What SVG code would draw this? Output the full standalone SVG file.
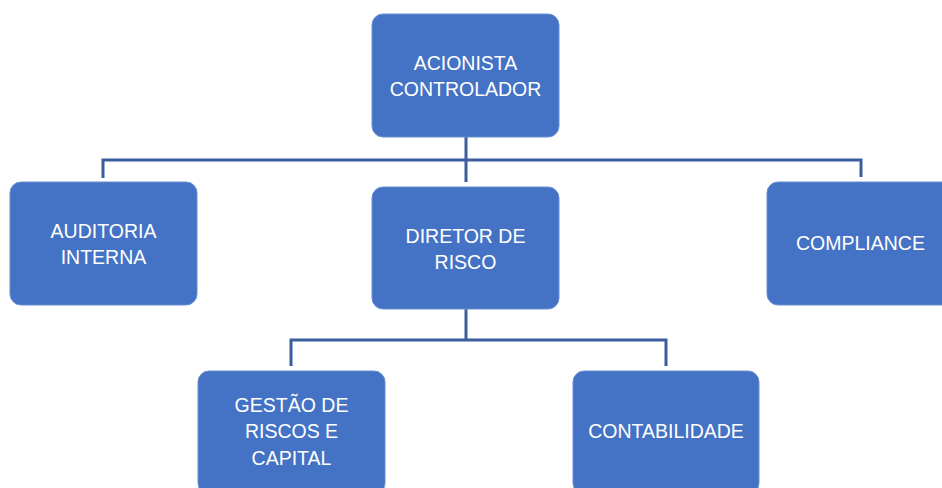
<svg xmlns="http://www.w3.org/2000/svg" width="942" height="488" viewBox="0 0 942 488">
<style>
.box{fill:#4472C4;stroke:#6A8FD0;stroke-width:1}
.t{font-family:"Liberation Sans",Arial,sans-serif;font-size:19.5px;fill:#FFFFFF;text-anchor:middle}
.c{fill:none;stroke:#3A5E9E;stroke-width:3}
</style>
<rect width="942" height="488" fill="#FFFFFF"/>
<g id="connectors">
<path class="c" d="M466 137V182M103 178V160H861V177"/>
<path class="c" d="M466 309V340M291 366V340H666V366"/>
</g>
<g id="acionista">
<rect class="box" x="372" y="14" width="187" height="123" rx="11"/>
<text class="t" x="465.5" y="70">ACIONISTA</text>
<text class="t" x="465.5" y="96">CONTROLADOR</text>
</g>
<g id="auditoria">
<rect class="box" x="10" y="182" width="187" height="123" rx="11"/>
<text class="t" x="103.5" y="238">AUDITORIA</text>
<text class="t" x="103.5" y="264">INTERNA</text>
</g>
<g id="diretor">
<rect class="box" x="372" y="187" width="187" height="122" rx="11"/>
<text class="t" x="465.5" y="243">DIRETOR DE</text>
<text class="t" x="465.5" y="269">RISCO</text>
</g>
<g id="compliance">
<rect class="box" x="767" y="182" width="187" height="123" rx="11"/>
<text class="t" x="860.5" y="250">COMPLIANCE</text>
</g>
<g id="gestao">
<rect class="box" x="198" y="371" width="187" height="123" rx="11"/>
<text class="t" x="291.5" y="412">GESTÃO DE</text>
<text class="t" x="291.5" y="438">RISCOS E</text>
<text class="t" x="291.5" y="465">CAPITAL</text>
</g>
<g id="contabilidade">
<rect class="box" x="573" y="371" width="186" height="123" rx="11"/>
<text class="t" x="666" y="438">CONTABILIDADE</text>
</g>
</svg>
